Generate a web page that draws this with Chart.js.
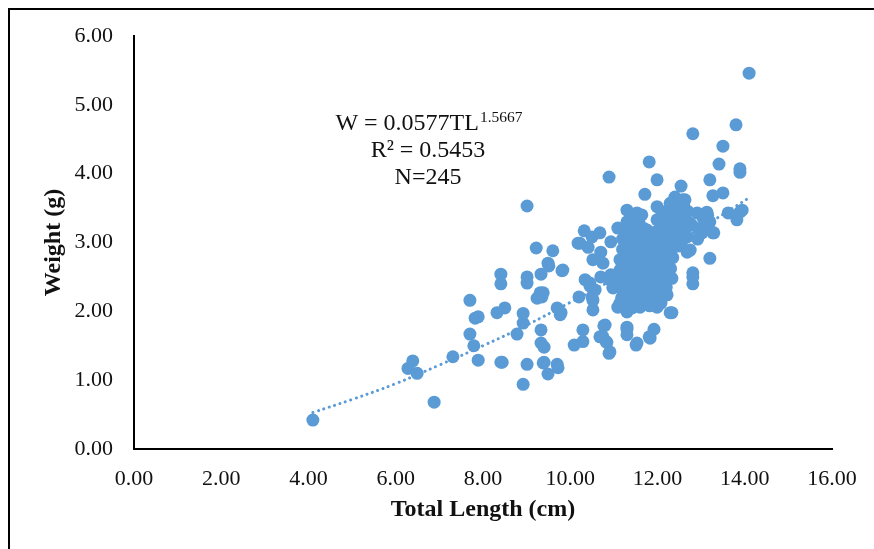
<!DOCTYPE html>
<html>
<head>
<meta charset="utf-8">
<script src="https://cdn.jsdelivr.net/npm/chart.js@4"></script>
<style>
  html, body { margin: 0; padding: 0; background: #ffffff; }
  #wrap { width: 874px; height: 549px; }
</style>
</head>
<body>
<div id="wrap"><canvas id="c" width="874" height="549"></canvas></div>
<script>
// ---- data ----
const totalLength = [
  4.10, 6.88, 6.39, 6.28, 6.49, 7.31, 7.70, 7.82, 7.89, 7.70, 7.79, 7.89, 8.32, 8.50, 8.41, 8.41, 8.41, 8.92, 8.92, 8.78,
  8.92, 9.01, 9.01, 9.01, 9.01, 9.22, 9.60, 9.49, 9.51, 9.33, 9.81, 9.31, 9.24, 9.35, 9.33, 9.33, 9.40, 9.40, 9.70, 9.72,
  9.49, 9.70, 9.79, 9.77, 10.20, 10.34, 10.45, 10.52, 10.52, 10.50, 10.09, 10.29, 10.29, 10.77, 10.68, 10.82, 10.89, 11.30, 11.30, 11.51,
  11.53, 11.81, 11.92, 12.33, 12.81, 12.81, 13.20, 12.33, 10.32, 10.22, 10.41, 10.68, 10.50, 10.70, 10.52, 10.75, 11.09, 10.93, 11.30, 11.58,
  10.93, 10.98, 11.14, 11.30, 11.60, 11.99, 12.22, 12.91, 13.13, 13.02, 13.27, 12.68, 11.99, 13.62, 13.82, 13.89, 14.10, 13.80, 12.81, 13.50,
  13.41, 13.89, 13.89, 11.81, 10.89, 11.99, 13.20, 12.54, 11.71, 13.27, 13.50, 12.40, 12.58, 11.53, 11.64, 11.99, 12.33, 12.29, 12.63, 13.20,
  12.75, 12.79, 13.94, 13.29, 11.76, 11.94, 12.75, 12.81, 12.29, 10.80, 10.75, 10.91, 11.30, 11.83, 9.38, 9.83, 10.18, 10.84, 8.44, 9.38,
  10.45, 10.91, 10.98, 11.09, 10.57, 10.70,
  11.14, 11.14, 11.20, 11.20, 11.14, 11.21, 11.18,
  11.30, 11.30, 11.30, 11.30, 11.30, 11.30, 11.30, 11.32, 11.30,
  11.42, 11.42, 11.40, 11.42, 11.45, 11.42, 11.40, 11.45, 11.42, 11.45,
  11.55, 11.55, 11.55, 11.58, 11.55, 11.55, 11.58, 11.55, 11.58,
  11.68, 11.70, 11.68, 11.72, 11.70, 11.68, 11.72, 11.70,
  11.82, 11.85, 11.82, 11.80, 11.84, 11.82, 11.85, 11.82,
  11.95, 11.97, 11.95, 11.93, 11.97, 11.95, 11.98,
  12.08, 12.08, 12.10, 12.06, 12.10, 12.08, 12.10, 12.08, 12.08, 12.10,
  12.20, 12.22, 12.20, 12.22, 12.18, 12.22, 12.20, 12.22,
  12.35, 12.35, 12.38, 12.33, 12.36, 12.38, 12.30,
  12.50, 12.48, 12.52, 12.50, 12.46, 12.55,
  12.62, 12.65, 12.68, 12.70, 12.60,
  12.95, 13.05, 13.10, 12.92, 13.15
];
const weight = [
  0.42, 0.68, 1.28, 1.17, 1.10, 1.34, 2.16, 1.90, 1.92, 1.67, 1.50, 1.29, 1.98, 2.05, 2.54, 2.40, 1.26, 1.97, 1.83, 1.67,
  0.94, 1.23, 3.53, 2.50, 2.41, 2.92, 2.88, 2.70, 2.66, 2.54, 2.59, 2.27, 2.19, 2.21, 1.73, 1.54, 1.48, 1.26, 1.23, 1.18,
  1.09, 2.05, 1.98, 1.95, 2.21, 2.46, 2.37, 2.02, 2.16, 2.21, 1.51, 1.73, 1.56, 1.79, 1.63, 1.56, 1.39, 1.77, 1.66, 1.51,
  1.54, 1.63, 1.74, 1.98, 2.56, 2.40, 2.77, 2.48, 3.17, 2.99, 2.93, 3.14, 3.08, 2.86, 2.75, 2.70, 3.21, 3.01, 3.47, 3.40,
  2.53, 2.35, 2.12, 1.99, 2.06, 2.06, 2.24, 3.43, 3.44, 3.14, 3.14, 2.86, 3.33, 3.43, 3.33, 3.44, 5.46, 4.71, 4.58, 4.40,
  4.14, 4.07, 4.02, 4.17, 3.95, 3.91, 3.91, 3.82, 3.70, 3.68, 3.72, 3.66, 3.62, 3.43, 3.40, 3.52, 3.52, 3.57, 3.62, 3.30,
  3.28, 3.25, 3.47, 3.14, 3.18, 3.15, 2.89, 2.50, 1.98, 1.80, 1.63, 1.41, 1.74, 1.61, 1.25, 2.60, 2.99, 1.55, 1.26, 2.27,
  2.41, 2.46, 2.34, 2.06, 2.31, 2.50,
  2.60, 2.75, 2.90, 3.05, 2.45, 2.30, 2.20,
  2.10, 2.25, 2.40, 2.55, 2.70, 2.85, 3.00, 3.15, 3.30,
  2.05, 2.20, 2.35, 2.50, 2.65, 2.80, 2.95, 3.10, 3.25, 3.38,
  2.10, 2.25, 2.40, 2.55, 2.70, 2.85, 3.00, 3.15, 3.28,
  2.15, 2.30, 2.45, 2.60, 2.75, 2.90, 3.05, 3.20,
  2.08, 2.22, 2.38, 2.52, 2.68, 2.82, 2.97, 3.10,
  2.20, 2.35, 2.50, 2.65, 2.80, 2.95, 3.05,
  2.12, 2.28, 2.42, 2.58, 2.72, 2.88, 3.02, 3.18, 3.35, 3.45,
  2.35, 2.55, 2.70, 2.85, 3.00, 3.15, 3.28, 3.40,
  2.78, 2.92, 3.05, 3.20, 3.35, 3.45, 2.62,
  2.95, 3.10, 3.22, 3.38, 3.50, 3.00,
  3.15, 3.30, 3.08, 3.45, 3.55,
  3.20, 3.35, 3.22, 3.05, 3.40
];
// power trend line W = 0.0577 TL^1.5667, values read at a few lengths
const trendLength = [4.10, 5.00, 6.00, 7.00, 8.00, 9.00, 10.00, 11.00, 12.00, 13.00, 14.10];
const trendWeight = [0.53, 0.72, 0.95, 1.22, 1.50, 1.80, 2.13, 2.47, 2.83, 3.21, 3.65];
const xTicks = [0, 2, 4, 6, 8, 10, 12, 14, 16];
const yTicks = [0, 1, 2, 3, 4, 5, 6];
const xTitle = 'Total Length (cm)';
const yTitle = 'Weight (g)';
const eqMain = 'W = 0.0577TL';
const eqSup = '1.5667';
const eqR2 = 'R\u00B2 = 0.5453';
const eqN = 'N=245';

const BLUE = '#5B9BD5';
const FONT = '"Liberation Serif", "Times New Roman", serif';
const TXT = '#111111';

const points = totalLength.map((x, i) => ({ x: x, y: weight[i] }));
const trend = trendLength.map((x, i) => ({ x: x, y: trendWeight[i] }));

const decorPlugin = {
  id: 'decor',
  beforeDraw(chart) {
    const ctx = chart.ctx;
    ctx.save();
    ctx.fillStyle = '#ffffff';
    ctx.fillRect(0, 0, chart.width, chart.height);
    ctx.strokeStyle = '#000000';
    ctx.lineWidth = 2;
    ctx.strokeRect(9, 9, chart.width + 20, chart.height + 20);
    ctx.restore();
  },
  afterDraw(chart) {
    const ctx = chart.ctx;
    const a = chart.chartArea;
    ctx.save();
    ctx.fillStyle = TXT;
    // axis titles
    ctx.font = 'bold 24px ' + FONT;
    ctx.textAlign = 'center';
    ctx.textBaseline = 'middle';
    ctx.fillText(xTitle, (a.left + a.right) / 2, 510);
    ctx.save();
    ctx.translate(54, (a.top + a.bottom) / 2);
    ctx.rotate(-Math.PI / 2);
    ctx.fillText(yTitle, 0, 0);
    ctx.restore();
    // equation label
    ctx.font = '24px ' + FONT;
    ctx.textBaseline = 'alphabetic';
    ctx.textAlign = 'left';
    const wMain = ctx.measureText(eqMain).width;
    ctx.font = '15.5px ' + FONT;
    const wSup = ctx.measureText(eqSup).width;
    const startX = 429 - (wMain + wSup + 1) / 2;
    ctx.font = '24px ' + FONT;
    ctx.fillText(eqMain, startX, 130);
    ctx.font = '15.5px ' + FONT;
    ctx.fillText(eqSup, startX + wMain + 1, 122);
    ctx.font = '24px ' + FONT;
    ctx.textAlign = 'center';
    ctx.fillText(eqR2, 428, 157);
    ctx.fillText(eqN, 428, 184);
    ctx.restore();
  }
};

new Chart(document.getElementById('c'), {
  type: 'scatter',
  data: {
    datasets: [
      {
        label: 'trend',
        data: trend,
        showLine: true,
        borderColor: BLUE,
        borderWidth: 3,
        borderDash: [0.1, 5.6],
        borderCapStyle: 'round',
        pointRadius: 0,
        pointHoverRadius: 0,
        tension: 0.4,
        fill: false,
        order: 0
      },
      {
        label: 'Weight',
        data: points,
        backgroundColor: BLUE,
        borderColor: BLUE,
        borderWidth: 0,
        pointRadius: 6.5,
        pointHoverRadius: 6.5,
        order: 1
      }
    ]
  },
  options: {
    responsive: false,
    animation: false,
    devicePixelRatio: 1,
    events: [],
    layout: { padding: { left: 0, right: 42, top: 36, bottom: 0 } },
    plugins: {
      legend: { display: false },
      tooltip: { enabled: false },
      title: { display: false }
    },
    scales: {
      x: {
        type: 'linear',
        min: 0, max: 16,
        afterFit(s) { s.height = 100; },
        afterBuildTicks(s) { s.ticks = xTicks.map(v => ({ value: v })); },
        grid: { display: false, drawTicks: false },
        border: { display: true, color: '#000000', width: 2 },
        ticks: {
          color: TXT,
          font: { family: FONT, size: 22 },
          padding: 17,
          maxRotation: 0,
          callback: v => Number(v).toFixed(2)
        }
      },
      y: {
        type: 'linear',
        min: 0, max: 6,
        afterFit(s) { s.width = 134; },
        afterBuildTicks(s) { s.ticks = yTicks.map(v => ({ value: v })); },
        grid: { display: false, drawTicks: false },
        border: { display: true, color: '#000000', width: 2 },
        ticks: {
          color: TXT,
          font: { family: FONT, size: 22 },
          padding: 21,
          callback: v => Number(v).toFixed(2)
        }
      }
    }
  },
  plugins: [decorPlugin]
});
</script>
</body>
</html>
